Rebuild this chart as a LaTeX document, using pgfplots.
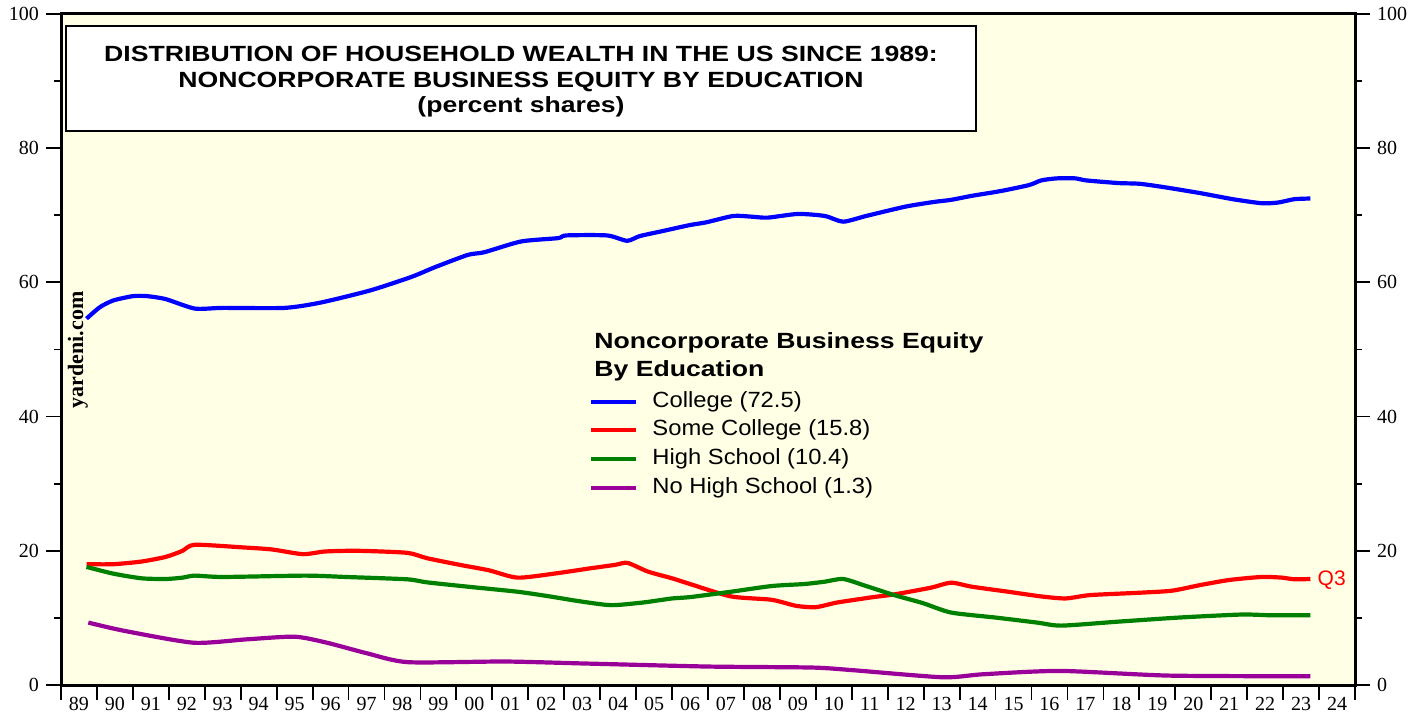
\documentclass[border=0pt]{standalone}
\usepackage{fontspec}
\setmainfont{Liberation Serif}
\newfontfamily\titlefont[FakeStretch=1.21]{Liberation Sans}
\newfontfamily\legfont[FakeStretch=1.08]{Liberation Sans}
\newfontfamily\plainsans{Liberation Sans}
\usepackage{pgfplots}
\pgfplotsset{compat=1.18}
\definecolor{bg}{RGB}{255,255,230}
\definecolor{cblue}{RGB}{0,0,255}
\definecolor{cred}{RGB}{255,0,0}
\definecolor{cgreen}{RGB}{0,128,0}
\definecolor{cpurple}{RGB}{153,0,153}

\pgfplotstableread{
x y
1989.71 54.6
1990.08 56.3
1990.45 57.3
1991.0 57.95
1991.4 57.95
1991.92 57.5
1992.72 56.1
1993.5 56.2
1995.22 56.2
1996.23 57.0
1997.6 58.8
1998.74 60.8
1999.42 62.3
2000.32 64.1
2000.78 64.5
2001.8 66.1
2002.83 66.6
2003.05 67.0
2004.19 67.0
2004.75 66.2
2005.1 66.9
2005.78 67.7
2006.5 68.55
2006.95 68.95
2007.7 69.9
2008.2 69.8
2008.66 69.65
2009.5 70.2
2010.25 69.9
2010.76 69.05
2011.4 69.9
2012.5 71.3
2013.3 72.0
2013.76 72.3
2014.34 72.9
2015.13 73.6
2015.93 74.5
2016.27 75.2
2016.7 75.5
2017.23 75.5
2017.52 75.2
2018.43 74.8
2019.0 74.7
2019.68 74.2
2020.7 73.3
2021.6 72.4
2022.4 71.8
2022.86 71.9
2023.31 72.4
2023.76 72.5
}\college

\pgfplotstableread{
x y
1989.71 18.0
1990.45 18.0
1991.24 18.4
1991.92 19.1
1992.38 20.0
1992.72 20.9
1994.08 20.5
1994.87 20.2
1995.73 19.5
1996.35 19.9
1997.26 20.0
1998.63 19.7
1999.18 18.9
2000.1 17.9
2000.9 17.1
2001.7 16.0
2002.72 16.6
2003.74 17.4
2004.41 17.9
2004.76 18.2
2005.33 16.9
2006.0 15.9
2006.5 15.05
2007.64 13.2
2008.77 12.7
2009.45 11.8
2010.0 11.6
2010.6 12.3
2011.6 13.1
2012.18 13.5
2013.2 14.5
2013.76 15.25
2014.34 14.65
2015.35 13.9
2016.27 13.2
2016.95 12.9
2017.63 13.4
2019.0 13.75
2019.9 14.05
2020.7 14.9
2021.5 15.65
2022.4 16.1
2022.97 16.0
2023.31 15.75
2023.76 15.8
}\somecollege

\pgfplotstableread{
x y
1989.71 17.6
1990.45 16.6
1991.24 15.9
1991.92 15.8
1992.38 16.0
1992.72 16.3
1993.5 16.1
1995.79 16.3
1996.92 16.1
1998.63 15.75
1999.18 15.3
2000.32 14.65
2001.7 13.9
2002.6 13.2
2003.4 12.5
2004.3 11.9
2005.2 12.3
2006.0 12.9
2006.5 13.1
2007.64 13.9
2008.77 14.75
2009.68 15.05
2010.25 15.4
2010.76 15.8
2011.4 14.75
2012.18 13.4
2012.98 12.2
2013.76 10.8
2015.0 10.05
2016.16 9.3
2016.83 8.85
2018.43 9.45
2020.1 10.05
2021.83 10.5
2022.63 10.4
2023.76 10.4
}\highschool

\pgfplotstableread{
x y
1989.76 9.3
1990.78 8.05
1992.69 6.3
1994.15 6.8
1995.5 7.2
1996.4 6.3
1997.53 4.7
1998.66 3.4
2001.35 3.5
2003.6 3.2
2007.0 2.75
2009.9 2.6
2011.05 2.2
2013.53 1.15
2014.65 1.6
2016.8 2.1
2019.83 1.4
2023.76 1.3
}\nohighschool

\begin{document}
\begin{tikzpicture}
\pgfplotsset{
  base/.style={
    scale only axis, width=647pt, height=335.5pt,
    xmin=1989, xmax=2025, ymin=0, ymax=100,
    ytick={0,20,...,100}, minor y tick num=1,
    tick align=outside, major tick length=7.5pt, minor tick length=3.5pt,
    /pgf/number format/assume math mode=true,
    tick label style={font=\fontsize{10}{12}\selectfont},
    every tick/.style={black, line width=0.9pt},
    axis line style={line width=1.5pt},
  }
}
\begin{axis}[base, name=ax,
  axis background/.style={fill=bg},
  xtick={1989,1990,...,2025}, xtick pos=bottom, ytick pos=left,
  xticklabels={89,90,91,92,93,94,95,96,97,98,99,00,01,02,03,04,05,06,07,08,09,10,11,12,13,14,15,16,17,18,19,20,21,22,23,24,{}},
  xticklabel style={xshift=8.986pt, yshift=1.5pt, inner sep=0pt},
  legend style={at={(axis description cs:0.4081,0.4385)}, anchor=north west,
    draw=none, fill=none, inner sep=0pt, column sep=7pt, row sep=3.85pt,
    font=\legfont\fontsize{11}{13}\selectfont,
    nodes={inner sep=0pt, text height=8pt, text depth=2.5pt}},
  legend cell align=left,
  legend image code/.code={\draw[#1, line width=2pt] (0pt,0pt) -- (22.5pt,0pt);},
]
\addplot[cblue, line width=2.1pt, smooth, tension=0.4] table {\college};
\addlegendentry{College (72.5)}
\addplot[cred, line width=2.1pt, smooth, tension=0.4] table {\somecollege};
\addlegendentry{Some College (15.8)}
\addplot[cgreen, line width=2.1pt, smooth, tension=0.4] table {\highschool};
\addlegendentry{High School (10.4)}
\addplot[cpurple, line width=2.1pt, smooth, tension=0.4] table {\nohighschool};
\addlegendentry{No High School (1.3)}

\node[draw, line width=1pt, fill=white, minimum width=455pt, minimum height=52.5pt,
  anchor=north west, inner sep=0pt]
  (tbox) at (axis description cs:0.0031,0.9836) {};
\node[inner sep=0pt, align=center,
  font=\titlefont\bfseries\fontsize{11}{12.7}\selectfont]
  at ([yshift=-1.6pt]tbox.center)
  {DISTRIBUTION OF HOUSEHOLD WEALTH IN THE US SINCE 1989:\\NONCORPORATE BUSINESS EQUITY BY EDUCATION\\(percent shares)};

\node[anchor=north west, inner sep=0pt, align=left,
  font=\titlefont\bfseries\fontsize{11}{14}\selectfont]
  at (axis description cs:0.4119,0.526)
  {Noncorporate Business Equity\\By Education};

\node[rotate=90, inner sep=0pt, font=\bfseries\fontsize{11}{13}\selectfont]
  at (axis description cs:0.0131,0.4993) {yardeni.com};

\node[anchor=west, inner sep=0pt, text=cred, font=\plainsans\fontsize{10.5}{12}\selectfont]
  at (axis cs:2023.95,15.65) {Q3};
\end{axis}

\begin{axis}[base, hide x axis, axis y line*=right, ytick pos=right]
\addplot[draw=none] coordinates {(1990,50)};
\end{axis}

\pgfresetboundingbox
\path[use as bounding box] ([xshift=-30.5pt,yshift=-16pt]ax.south west) rectangle ([xshift=35.5pt,yshift=7pt]ax.north east);
\end{tikzpicture}
\end{document}
